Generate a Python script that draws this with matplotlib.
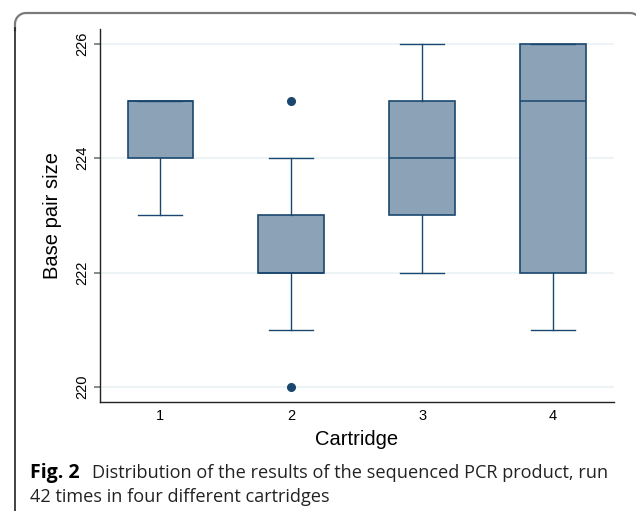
import matplotlib
matplotlib.use('Agg')
import matplotlib.pyplot as plt
import numpy as np
from matplotlib.lines import Line2D

# box statistics per cartridge (base pairs)
cartridges = [1, 2, 3, 4]
q1 = [224, 222, 223, 222]
medians = [225, 222, 224, 225]
q3 = [225, 223, 225, 226]
whisker_lo = [223, 221, 222, 221]
whisker_hi = [225, 224, 226, 226]
outliers = [[], [225, 220], [], []]
yticks = [220, 222, 224, 226]

navy = '#1A476F'
fill = '#8CA3B7'
grid_col = '#EAF2F3'

plt.rcParams['font.family'] = ['Liberation Sans', 'DejaVu Sans']

fig = plt.figure(figsize=(6.36, 5.11), dpi=100)
W, H = 636, 511

# rounded frame around figure + caption (open path, runs off right/bottom)
r = 11
xl, xr, yt = 15, 641, 13
t = np.linspace(0, np.pi / 2, 20)
top_x = np.concatenate([xl + r - r * np.cos(t), xr - r + r * np.sin(t)])
top_y = np.concatenate([yt + r - r * np.sin(t), yt + r - r * np.cos(t)])
top_x = np.concatenate([[xl], top_x, [xr]])
top_y = np.concatenate([[yt + r + 6], top_y, [yt + r + 40]])
fig.add_artist(Line2D(top_x / W, 1 - top_y / H, transform=fig.transFigure,
                      color='#7a7a7a', lw=1.6))
fig.add_artist(Line2D([xl / W, xl / W], [-0.01, 1 - (yt + r + 4) / H], transform=fig.transFigure,
                      color='#222222', lw=1.2))

ax = fig.add_axes([100 / W, 1 - 402.3 / H, (613.7 - 100) / W, (402.3 - 29) / H])

stats = []
for i in range(len(cartridges)):
    stats.append({'label': str(cartridges[i]), 'q1': q1[i], 'med': medians[i], 'q3': q3[i],
                  'whislo': whisker_lo[i], 'whishi': whisker_hi[i], 'fliers': outliers[i]})

ax.bxp(stats, positions=cartridges, widths=0.5, capwidths=0.336, patch_artist=True,
       boxprops=dict(facecolor=fill, edgecolor=navy, lw=1.2),
       medianprops=dict(color=navy, lw=1.1),
       whiskerprops=dict(color=navy, lw=1.0),
       capprops=dict(color=navy, lw=1.0),
       flierprops=dict(marker='o', markerfacecolor=navy, markeredgecolor=navy, markersize=5.5))

ax.set_xlim(0.539, 4.464)
ax.set_ylim(219.733, 226.257)
ax.set_yticks(yticks)
ax.set_yticklabels([str(t) for t in yticks], rotation=90, va='center', fontsize=10.5)
ax.tick_params(axis='y', length=4.5, color='#777777', width=1.2, pad=3)
ax.tick_params(axis='x', length=0, labelsize=10.5, pad=5)
ax.yaxis.grid(True, color=grid_col, lw=1.2)
ax.set_axisbelow(True)
for s in ['top', 'right']:
    ax.spines[s].set_visible(False)
for s in ['left', 'bottom']:
    ax.spines[s].set_color('#222222')
    ax.spines[s].set_linewidth(1.0)

ax.set_xlabel('Cartridge', fontsize=14.5, labelpad=5)
ax.set_ylabel('Base pair size', fontsize=14.5, labelpad=10)

# caption
cap_font = ['Open Sans', 'DejaVu Sans']
fig.text(30 / W, 1 - 477.7 / H, 'Fig. 2', fontsize=14, fontweight='bold',
         family=cap_font, va='baseline')
fig.text(92 / W, 1 - 477.7 / H, 'Distribution of the results of the sequenced PCR product, run',
         fontsize=13.1, family=cap_font, va='baseline', color='#222222')
fig.text(30 / W, 1 - 501.7 / H, '42 times in four different cartridges',
         fontsize=13.1, family=cap_font, va='baseline', color='#222222')

fig.savefig('out.png', dpi=100)
